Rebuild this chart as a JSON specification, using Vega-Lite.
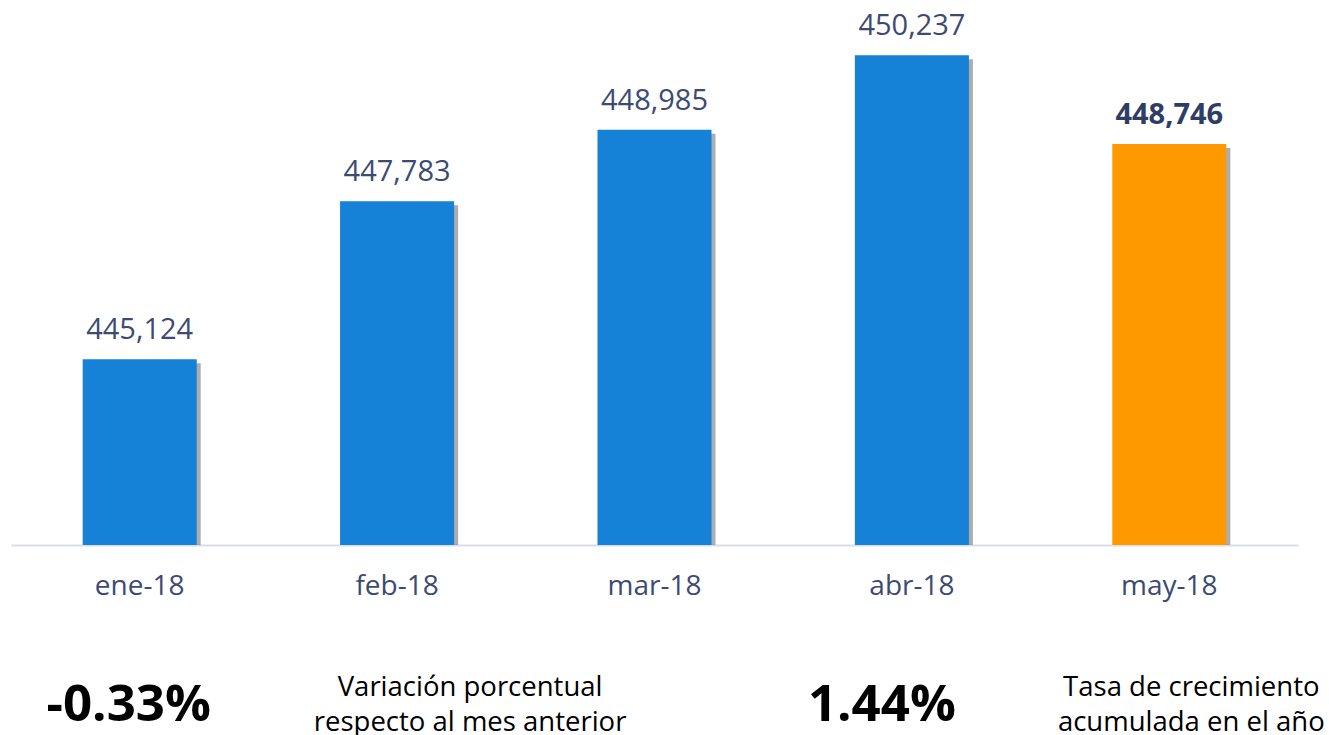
{
  "$schema": "https://vega.github.io/schema/vega-lite/v6.json",
  "padding": {"left": 11, "top": 0, "right": 0, "bottom": 0},
  "background": "white",
  "config": {
    "view": {"stroke": null},
    "font": "Open Sans",
    "concat": {"spacing": 50}
  },
  "datasets": {
    "meses": [
      {"mes": "ene-18", "valor": 445124, "destacado": "no"},
      {"mes": "feb-18", "valor": 447783, "destacado": "no"},
      {"mes": "mar-18", "valor": 448985, "destacado": "no"},
      {"mes": "abr-18", "valor": 450237, "destacado": "no"},
      {"mes": "may-18", "valor": 448746, "destacado": "sí"}
    ],
    "notas": [
      {"ancla": "ene-18", "tipo": "cifra_mensual", "nota": "-0.33%"},
      {"ancla": "feb-18", "tipo": "texto_mensual", "nota": "Variación porcentual\nrespecto al mes anterior"},
      {"ancla": "abr-18", "tipo": "cifra_anual", "nota": "1.44%"},
      {"ancla": "may-18", "tipo": "texto_anual", "nota": "Tasa de crecimiento\nacumulada en el año"}
    ]
  },
  "vconcat": [
    {
      "width": 1287,
      "height": 545,
      "data": {"name": "meses"},
      "encoding": {
        "x": {
          "field": "mes",
          "type": "ordinal",
          "sort": null,
          "scale": {"paddingInner": 0.557, "paddingOuter": 0.2785},
          "axis": {
            "title": null,
            "labelAngle": 0,
            "ticks": false,
            "domainColor": "#D9DDE9",
            "domainWidth": 2,
            "labelFontSize": 28,
            "labelColor": "#3D4B73",
            "labelPadding": 27,
            "labelFont": "Open Sans"
          }
        }
      },
      "layer": [
        {
          "mark": {"type": "bar", "color": "#4a4a4a", "opacity": 0.45, "xOffset": 4, "yOffset": 4},
          "encoding": {
            "y": {"field": "valor", "type": "quantitative", "scale": {"domain": [442000, 451166], "nice": false, "zero": false}, "axis": null},
            "y2": {"datum": 442000}
          }
        },
        {
          "mark": {"type": "bar"},
          "encoding": {
            "y": {"field": "valor", "type": "quantitative"},
            "y2": {"datum": 442000},
            "color": {"field": "destacado", "type": "nominal", "scale": {"domain": ["no", "sí"], "range": ["#1582D8", "#FF9900"]}, "legend": null}
          }
        },
        {
          "transform": [{"filter": "datum.destacado == 'no'"}],
          "mark": {"type": "text", "baseline": "alphabetic", "dy": -20, "fontSize": 29, "color": "#3D4B73"},
          "encoding": {
            "y": {"field": "valor", "type": "quantitative"},
            "text": {"field": "valor", "type": "quantitative", "format": ","}
          }
        },
        {
          "transform": [{"filter": "datum.destacado == 'sí'"}],
          "mark": {"type": "text", "baseline": "alphabetic", "dy": -20, "fontSize": 29, "fontWeight": "bold", "color": "#2F3D66"},
          "encoding": {
            "y": {"field": "valor", "type": "quantitative"},
            "text": {"field": "valor", "type": "quantitative", "format": ","}
          }
        }
      ]
    },
    {
      "width": 1287,
      "height": 100,
      "data": {"name": "notas"},
      "encoding": {
        "x": {
          "field": "ancla",
          "type": "ordinal",
          "scale": {"domain": ["ene-18", "feb-18", "mar-18", "abr-18", "may-18"], "paddingInner": 0.557, "paddingOuter": 0.2785},
          "axis": null
        },
        "text": {"field": "nota", "type": "nominal"}
      },
      "layer": [
        {
          "transform": [{"filter": "datum.tipo == 'cifra_mensual'"}],
          "mark": {"type": "text", "fontSize": 51, "fontWeight": "bold", "color": "#000000", "dx": -11, "dy": 6}
        },
        {
          "transform": [{"filter": "datum.tipo == 'texto_mensual'"}],
          "mark": {"type": "text", "fontSize": 27.5, "lineBreak": "\n", "lineHeight": 35, "color": "#000000", "dx": 73, "dy": -12}
        },
        {
          "transform": [{"filter": "datum.tipo == 'cifra_anual'"}],
          "mark": {"type": "text", "fontSize": 51, "fontWeight": "bold", "color": "#000000", "dx": -30, "dy": 6}
        },
        {
          "transform": [{"filter": "datum.tipo == 'texto_anual'"}],
          "mark": {"type": "text", "fontSize": 27.5, "lineBreak": "\n", "lineHeight": 35, "color": "#000000", "dx": 22, "dy": -12}
        }
      ]
    }
  ]
}
